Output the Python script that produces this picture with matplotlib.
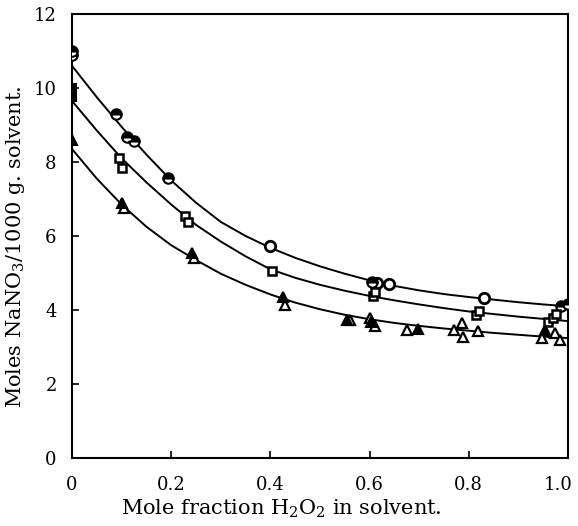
import matplotlib
matplotlib.use("Agg")
import matplotlib.pyplot as plt
import matplotlib.transforms as mtransforms
import numpy as np

# Fitted curves
curve_x = [0.0, 0.05, 0.1, 0.15, 0.2, 0.25, 0.3, 0.35, 0.4, 0.45, 0.5,
           0.55, 0.6, 0.65, 0.7, 0.75, 0.8, 0.85, 0.9, 0.95, 1.0]
curve_top = [10.6, 9.75, 8.95, 8.2, 7.5, 6.9, 6.38, 6.0, 5.68, 5.41, 5.18,
             4.98, 4.8, 4.65, 4.53, 4.43, 4.35, 4.28, 4.21, 4.15, 4.1]
curve_mid = [9.65, 8.85, 8.1, 7.45, 6.85, 6.3, 5.85, 5.45, 5.1, 4.87, 4.68,
             4.52, 4.38, 4.26, 4.15, 4.05, 3.96, 3.89, 3.82, 3.76, 3.7]
curve_bot = [8.35, 7.55, 6.85, 6.25, 5.75, 5.35, 4.98, 4.68, 4.42, 4.2, 4.02,
             3.87, 3.75, 3.65, 3.57, 3.5, 3.44, 3.38, 3.33, 3.28, 3.24]

# Circles (top series)
circ_open_x = [0.40, 0.64, 0.83, 0.615]
circ_open_y = [5.73, 4.70, 4.32, 4.72]
circ_fill_x = [0.0, 0.0, 0.089, 0.111, 0.125, 0.194, 0.605, 0.985, 1.0]
circ_fill_y = [10.9, 11.0, 9.3, 8.68, 8.56, 7.57, 4.75, 4.1, 4.15]

# Squares (middle series)
sq_open_x = [0.095, 0.10, 0.228, 0.234, 0.403, 0.607, 0.61, 0.815, 0.82, 0.96, 0.97, 0.976]
sq_open_y = [8.1, 7.84, 6.54, 6.38, 5.05, 4.38, 4.49, 3.86, 3.97, 3.68, 3.78, 3.88]
sq_fill_x = [0.0, 0.0]
sq_fill_y = [10.0, 9.75]

# Triangles (bottom series)
tri_open_x = [0.104, 0.246, 0.43, 0.56, 0.60, 0.61, 0.675, 0.77, 0.788, 0.786, 0.818, 0.948, 0.974, 0.984]
tri_open_y = [6.76, 5.40, 4.14, 3.72, 3.78, 3.57, 3.46, 3.46, 3.27, 3.65, 3.43, 3.24, 3.38, 3.19]
tri_fill_x = [0.0, 0.10, 0.242, 0.425, 0.554, 0.603, 0.697, 0.954]
tri_fill_y = [8.6, 6.9, 5.54, 4.35, 3.73, 3.68, 3.49, 3.46]

x_ticks = [0, 0.2, 0.4, 0.6, 0.8, 1.0]
x_ticklabels = ["0", "0.2", "0.4", "0.6", "0.8", "1.0"]
y_ticks = [0, 2, 4, 6, 8, 10, 12]
y_ticklabels = ["0", "2", "4", "6", "8", "10", "12"]

plt.rcParams['font.family'] = ['DejaVu Serif']
plt.rcParams['mathtext.fontset'] = 'dejavuserif'

fig = plt.figure(figsize=(5.78, 5.26), dpi=100)
ax = fig.add_axes([0.1246, 0.1293, 0.8581, 0.8441])

for cy in (curve_top, curve_mid, curve_bot):
    ax.plot(curve_x, cy, color='black', lw=1.4, zorder=2)

ms = 7.5
ax.plot(circ_open_x, circ_open_y, 'o', ms=ms, mfc='white', mec='black', mew=2.0, ls='none', zorder=3)
ax.plot(circ_fill_x, circ_fill_y, 'o', ms=ms, mfc='black', mec='black', mew=1.5, ls='none',
        fillstyle='top', markerfacecoloralt='white', zorder=3)
ax.plot(sq_open_x, sq_open_y, 's', ms=6, mfc='white', mec='black', mew=1.8, ls='none', zorder=3)
ax.plot(sq_fill_x, sq_fill_y, 's', ms=6, mfc='black', mec='black', mew=1.5, ls='none', zorder=3)
ax.plot(tri_open_x, tri_open_y, '^', ms=7, mfc='white', mec='black', mew=1.6, ls='none', zorder=3)
ax.plot(tri_fill_x, tri_fill_y, '^', ms=7, mfc='black', mec='black', mew=1.5, ls='none', zorder=3)

ax.set_xlim(0, 1.0)
ax.set_ylim(0, 12)
ax.set_xticks(x_ticks)
ax.set_xticklabels(x_ticklabels)
ax.set_yticks(y_ticks)
ax.set_yticklabels(y_ticklabels)
ax.tick_params(direction='in', length=5, width=1.2, labelsize=13, colors='black')
ax.tick_params(axis='x', pad=13)
ax.tick_params(axis='y', pad=11)
for s in ax.spines.values():
    s.set_linewidth(1.5)

# keep the last x tick label inside the picture, as in the reference
last = ax.get_xticklabels()[-1]
last.set_transform(last.get_transform() + mtransforms.ScaledTranslation(-10/100, 0, fig.dpi_scale_trans))

ax.set_xlabel('Mole fraction H$_2$O$_2$ in solvent.', fontsize=15)
ax.set_ylabel('Moles NaNO$_3$/1000 g. solvent.', fontsize=15)
ax.xaxis.set_label_coords(0.423, -0.09)
ax.yaxis.set_label_coords(-0.09, 0.475)

fig.savefig('out.png', dpi=100)
